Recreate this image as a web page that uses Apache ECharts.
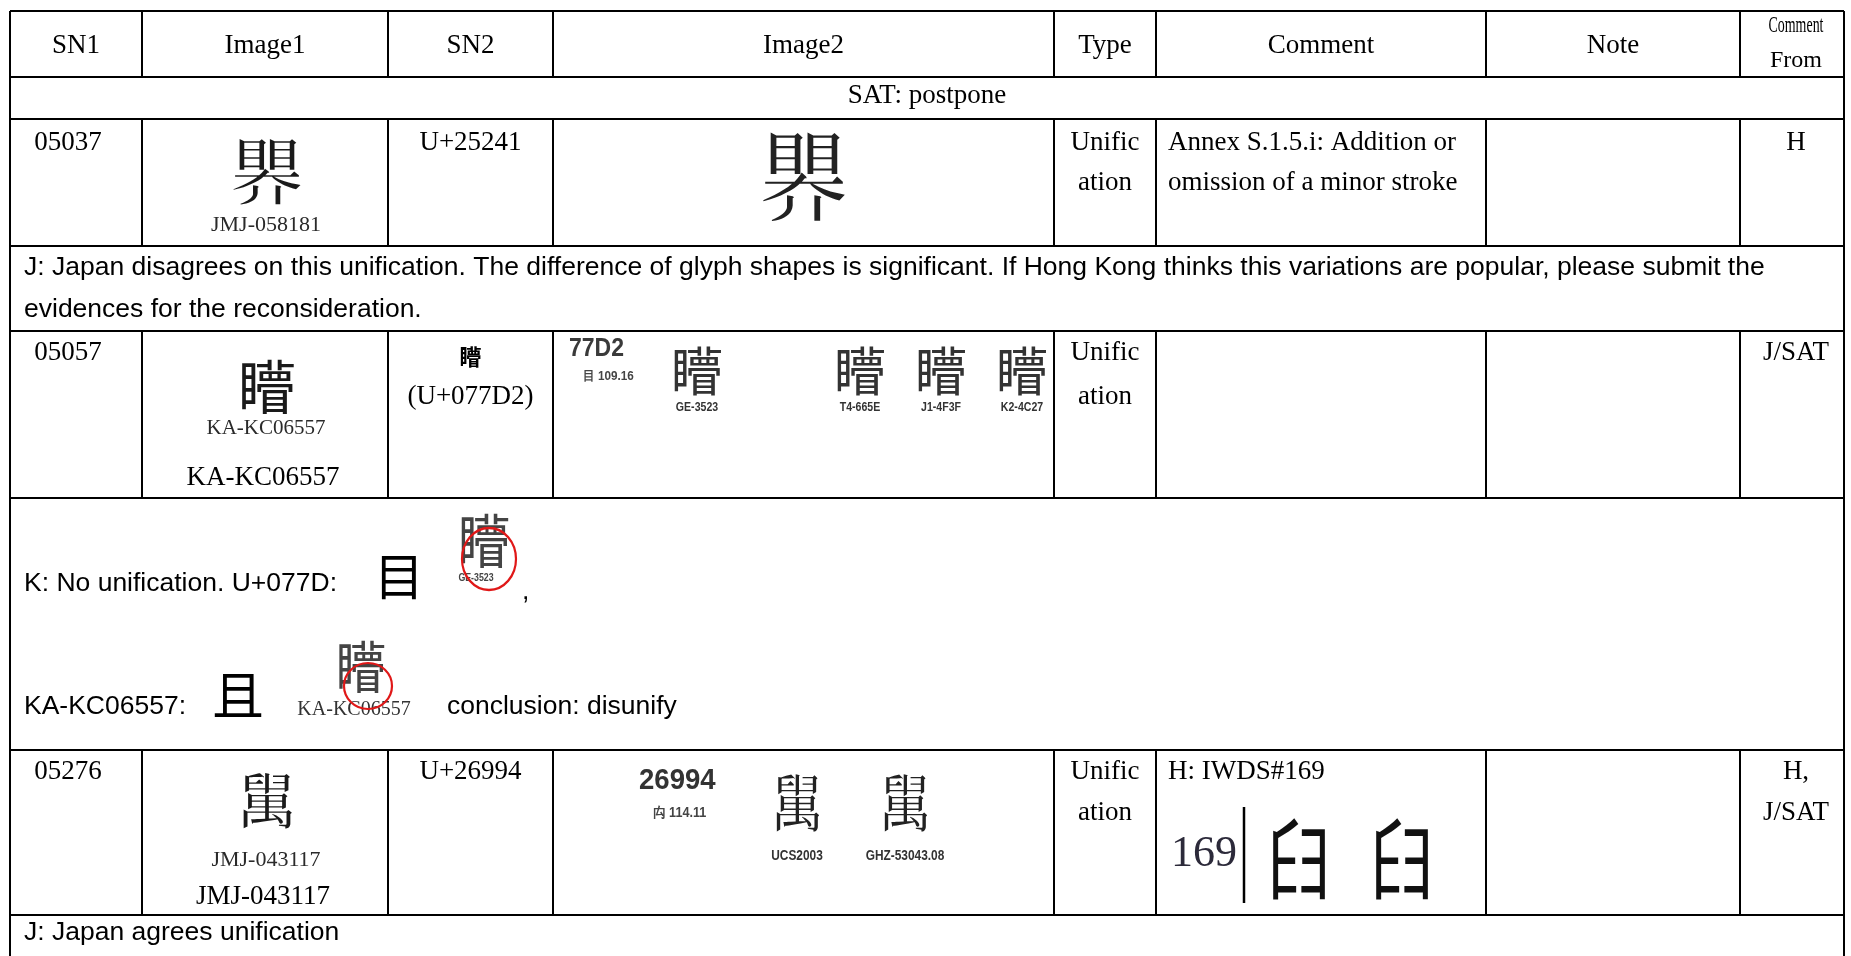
<!DOCTYPE html>
<html><head><meta charset="utf-8">
<script src="https://cdn.jsdelivr.net/npm/echarts@6/dist/echarts.min.js"></script>
<style>html,body{margin:0;padding:0;background:#fff}#c{width:1851px;height:956px}</style>
</head><body><div id="c"></div><script>
// ---------- data ----------
const headers = ['SN1','Image1','SN2','Image2','Type','Comment','Note','Comment\nFrom'];
const sectionTitle = 'SAT: postpone';
const sn1 = ['05037','05057','05276'];
const image1Glyph = ['𥉁','矒','𦦔'];
const image1Source = ['JMJ-058181','KA-KC06557','JMJ-043117'];
const image1Caption = ['','KA-KC06557','JMJ-043117'];
const sn2Glyph = ['','矒',''];
const sn2Code = ['U+25241','(U+077D2)','U+26994'];
const typeText = [['Unific','ation'],['Unific','ation'],['Unific','ation']];
const commentText = [['Annex S.1.5.i: Addition or','omission of a minor stroke'],[],['H: IWDS#169']];
const noteText = [[],[],[]];
const commentFrom = [['H'],['J/SAT'],['H,','J/SAT']];
const image2Code = ['', '77D2', '26994'];
const image2Radical = ['', '目 109.16', '禸 114.11'];
const image2Glyphs = [['𥉁'], ['矒','矒','矒','矒'], ['𦦔','𦦔']];
const image2Sources = [[''], ['GE-3523','T4-665E','J1-4F3F','K2-4C27'], ['UCS2003','GHZ-53043.08']];
const feedbackLines = [
  ['J: Japan disagrees on this unification. The difference of glyph shapes is significant. If Hong Kong thinks this variations are popular, please submit the',
   'evidences for the reconsideration.'],
  ['K: No unification. U+077D:', 'KA-KC06557:'],
  ['J: Japan agrees unification']
];
const kComponentGlyphs = ['目','且'];
const kSampleGlyph = '矒';
const kSampleSources = ['GE-3523','KA-KC06557'];
const kTrailing = [',', 'conclusion: disunify'];
const iwdsNumber = '169';
const iwdsGlyphs = ['𦥑','𦥑'];

// ---------- layout ----------
const COLS = [10,142,388,553,1054,1156,1486,1740,1844];
const BANDS = [[11,77],[77,119],[119,246],[246,331],[331,498],[498,750],[750,915],[915,1000]];
const KIND = ['header','section','entry','note','entry','note','entry','note'];
const SERIF = '"Liberation Serif","Times New Roman",serif';
const SANS = '"Liberation Sans",Arial,sans-serif';
const CJK = '"Noto Sans CJK JP","Noto Sans CJK SC",sans-serif';
const BODY = 27, NOTE = 26.5;
const IMG1 = [{gy:53,gs:74,sy:106,cy:0},{gy:56,gs:58,sy:97,cy:147},{gy:51,gs:60,sy:110,cy:147}];
const LINES = [[24,64],[22,66],[22,63]];

function renderItem(params, api) {
  const b = params.dataIndex;
  const y0 = BANDS[b][0], y1 = BANDS[b][1];
  const kind = KIND[b];
  const ch = [];
  const P = (x, y) => api.coord([x, y]);
  const line = (xa, ya, xb, yb, w) => { const p = P(xa, ya), q = P(xb, yb);
    ch.push({type:'line', shape:{x1:p[0],y1:p[1],x2:q[0],y2:q[1]}, style:{stroke:'#000', lineWidth:w||2}}); };
  const text = (x, y, s, font, align, extra, el) => { if (!s) return; const p = P(x, y);
    ch.push(Object.assign({type:'text', x:p[0], y:p[1], style:Object.assign({text:s, font:font, fill:'#000', align:align||'left', verticalAlign:'middle'}, extra||{})}, el||{})); };
  const ring = (cx, cy, rx, ry) => { const p = P(cx, cy);
    ch.push({type:'circle', x:p[0], y:p[1], scaleY: ry/rx, shape:{cx:0,cy:0,r:rx}, style:{fill:null, stroke:'#e01818', lineWidth:2.2, strokeNoScale:true}}); };

  // borders
  line(COLS[0], y0, COLS[8], y0);
  line(COLS[0], y0, COLS[0], y1);
  line(COLS[8], y0, COLS[8], y1);
  if (kind === 'header' || kind === 'entry') for (let i = 1; i < 8; i++) line(COLS[i], y0, COLS[i], y1);

  const f = (sz, fam, w) => (w || 'normal') + ' ' + sz + 'px ' + fam;
  const cx = i => (COLS[i] + COLS[i+1]) / 2;

  if (kind === 'header') {
    for (let i = 0; i < 7; i++) text(cx(i), 46, headers[i], f(BODY, SERIF), 'center');
    const hh = headers[7].split('\n');
    text(cx(7) + 4, 26, hh[0], f(24, SERIF), 'center', null, {scaleX: 0.58});
    text(cx(7) + 4, 61, hh[1], f(24, SERIF), 'center');
  } else if (kind === 'section') {
    text((COLS[0] + COLS[8]) / 2, 96, sectionTitle, f(BODY, SERIF), 'center');
  } else if (kind === 'entry') {
    const e = (b - 2) / 2;
    const L1 = y0 + LINES[e][0], L2 = y0 + LINES[e][1];
    text(68, L1, sn1[e], f(BODY, SERIF), 'center');
    // Image1
    const lay = IMG1[e];
    text(cx(1) + 2, y0 + lay.gy, image1Glyph[e], f(lay.gs, CJK), 'center', {fill:'#1a1a1a'});
    text(cx(1) + 1, y0 + lay.sy, image1Source[e], f(e === 1 ? 21 : 22, SERIF), 'center', {fill:'#2a2a2a'});
    if (image1Caption[e]) text(cx(1) - 2, y0 + lay.cy, image1Caption[e], f(BODY, SERIF), 'center');
    // SN2
    if (sn2Glyph[e]) { text(cx(2), y0 + 26, sn2Glyph[e], f(22, CJK, 'bold'), 'center'); text(cx(2), L2, sn2Code[e], f(BODY, SERIF), 'center'); }
    else text(cx(2), L1, sn2Code[e], f(BODY, SERIF), 'center');
    // Image2
    if (e === 0) {
      text(cx(3), y0 + 58, image2Glyphs[0][0], f(100, CJK), 'center', {fill:'#222'}, {scaleX:0.9});
    } else if (e === 1) {
      text(569, y0 + 18, image2Code[1], f(25, SANS, 'bold'), 'left', {fill:'#3a3a3a'}, {scaleX:0.92});
      text(583, y0 + 45, image2Radical[1], f(13, SANS, 'bold'), 'left', {fill:'#444'}, {scaleX:0.9});
      const xs = [697, 860, 941, 1022];
      xs.forEach((x, k) => {
        text(x, y0 + 40, image2Glyphs[1][k], f(52, CJK), 'center', {fill:'#333'});
        text(x, y0 + 77, image2Sources[1][k], f(12, SANS, 'bold'), 'center', {fill:'#333'}, {scaleX:0.88});
      });
    } else {
      text(639, y0 + 31, image2Code[2], f(29, SANS, 'bold'), 'left', {fill:'#333'}, {scaleX:0.95});
      text(653, y0 + 63, image2Radical[2], f(14, SANS, 'bold'), 'left', {fill:'#444'}, {scaleX:0.9});
      const xs = [797, 905];
      xs.forEach((x, k) => {
        text(x, y0 + 53, image2Glyphs[2][k], f(62, CJK), 'center', {fill:'#222'}, {scaleX:0.85});
        text(x, y0 + 106, image2Sources[2][k], f(14, SANS, 'bold'), 'center', {fill:'#333'}, {scaleX:0.85});
      });
    }
    // Type
    typeText[e].forEach((s, k) => text(cx(4), k ? L2 : L1, s, f(BODY, SERIF), 'center'));
    // Comment
    commentText[e].forEach((s, k) => text(1168, k ? L2 : L1, s, f(BODY, SERIF), 'left'));
    // Note
    noteText[e].forEach((s, k) => text(1498, k ? L2 : L1, s, f(BODY, SERIF), 'left'));
    // Comment From
    commentFrom[e].forEach((s, k) => text(cx(7) + 4, k ? L2 : L1, s, f(BODY, SERIF), 'center'));
    if (e === 2) {
      text(1171, y0 + 104, iwdsNumber, f(44, SERIF), 'left', {fill:'#2c2a3a'});
      line(1244, y0 + 57, 1244, y0 + 153, 2.5);
      text(1299, y0 + 109, iwdsGlyphs[0], f(88, CJK), 'center', {fill:'#111'}, {scaleX:0.75});
      text(1402, y0 + 109, iwdsGlyphs[1], f(88, CJK), 'center', {fill:'#111'}, {scaleX:0.75});
    }
  } else if (kind === 'note') {
    const n = (b - 3) / 2;
    if (n === 0) {
      text(24, 268, feedbackLines[0][0], f(NOTE, SANS), 'left');
      text(24, 310, feedbackLines[0][1], f(NOTE, SANS), 'left');
    } else if (n === 1) {
      text(24, y0 + 86, feedbackLines[1][0], f(NOTE, SANS), 'left');
      text(399, y0 + 78, kComponentGlyphs[0], f(50, CJK), 'center');
      text(484, y0 + 43, kSampleGlyph, f(58, CJK), 'center', {fill:'#444'}, {scaleX:0.9});
      text(476, y0 + 80, kSampleSources[0], f(11, SANS, 'bold'), 'center', {fill:'#444'}, {scaleX:0.8});
      ring(489, y0 + 61, 27, 31);
      text(522, y0 + 94, kTrailing[0], f(NOTE, SANS), 'left');
      text(24, y0 + 209, feedbackLines[1][1], f(NOTE, SANS), 'left');
      text(238, y0 + 197, kComponentGlyphs[1], f(52, CJK), 'center');
      text(361, y0 + 169, kSampleGlyph, f(56, CJK), 'center', {fill:'#444'}, {scaleX:0.9});
      text(354, y0 + 212, kSampleSources[1], f(20, SERIF), 'center', {fill:'#333'});
      ring(368, y0 + 188, 24, 23);
      text(447, y0 + 209, kTrailing[1], f(NOTE, SANS), 'left');
    } else {
      text(24, y0 + 18, feedbackLines[2][0], f(NOTE, SANS), 'left');
    }
  }
  return {type:'group', children: ch};
}

const chart = echarts.init(document.getElementById('c'), null, {renderer:'canvas'});
chart.setOption({
  backgroundColor:'#fff',
  animation:false,
  grid:{left:0, right:0, top:0, bottom:0},
  xAxis:{type:'value', min:0, max:1851, show:false},
  yAxis:{type:'value', min:0, max:956, inverse:true, show:false},
  series:[{type:'custom', coordinateSystem:'cartesian2d', clip:false, silent:true,
    renderItem: renderItem, data: KIND.map((k, i) => [0, BANDS[i][0]])}]
});
</script></body></html>
